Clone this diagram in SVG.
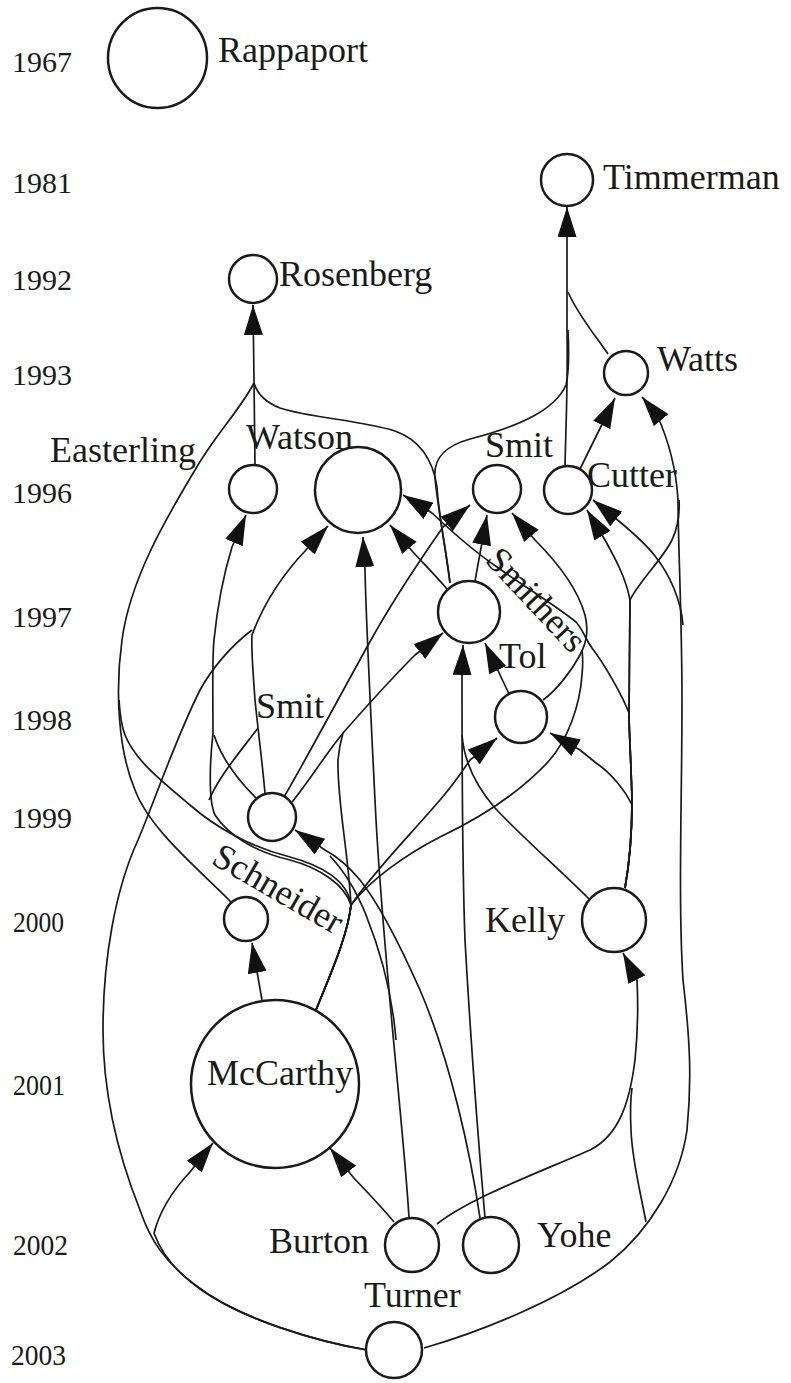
<svg xmlns="http://www.w3.org/2000/svg" width="791" height="1383" viewBox="0 0 791 1383">
<style>
.n{fill:#fff;stroke:#1a1a1a;stroke-width:2.5}
.e{fill:none;stroke:#1a1a1a;stroke-width:1.7}
.a{marker-end:url(#ah)}
.t{font-family:"Liberation Serif","Times New Roman",serif;font-size:36px;fill:#1a1a1a}
.y{font-family:"Liberation Serif","Times New Roman",serif;font-size:30px;fill:#1a1a1a}
</style>
<defs>
<marker id="ah" viewBox="0 0 30 19" refX="30" refY="9.5" markerWidth="30" markerHeight="19" markerUnits="userSpaceOnUse" orient="auto"><path d="M0,0 L30,9.5 L0,19 z" fill="#111"/></marker>
</defs>
<rect width="791" height="1383" fill="#fff"/>
<g id="years">
<text class="y" x="12" y="72">1967</text>
<text class="y" x="12" y="193">1981</text>
<text class="y" x="12" y="290">1992</text>
<text class="y" x="12" y="385">1993</text>
<text class="y" x="12" y="503">1996</text>
<text class="y" x="12" y="627">1997</text>
<text class="y" x="12" y="730">1998</text>
<text class="y" x="12" y="828">1999</text>
<text class="y" x="13" y="932" textLength="51" lengthAdjust="spacingAndGlyphs">2000</text>
<text class="y" x="13" y="1095" textLength="52" lengthAdjust="spacingAndGlyphs">2001</text>
<text class="y" x="13" y="1255" textLength="55" lengthAdjust="spacingAndGlyphs">2002</text>
<text class="y" x="11" y="1365" textLength="55" lengthAdjust="spacingAndGlyphs">2003</text>
</g>
<g id="edges">
<path class="e a" d="M565,466 C566,420 568,385 567,330 L567,207"/>
<path class="e" d="M608,354 C595,335 578,315 568,292"/>
<path class="e" d="M450,583 C446,550 438,510 435,478 C433,458 445,446 470,439 C520,426 555,410 566,385 C569,372 569,350 568,330"/>
<path class="e a" d="M255,465 L254,380 L253,305"/>
<path class="e" d="M232,903 C200,870 150,830 135,790 C118,750 115,690 122,640 C130,580 165,520 195,470 C215,435 240,410 254,383"/>
<path class="e" d="M316,1010 C330,975 348,935 351,905 C348,880 320,865 290,857 C250,847 215,827 190,805 C160,780 135,760 125,735 C121,725 120,715 119,700"/>
<path class="e" d="M450,583 C446,550 438,510 437,487 C433,460 420,440 395,431 C360,420 310,418 280,408 C265,402 257,393 254,383"/>
<path class="e a" d="M580,469 L615,398"/>
<path class="e a" d="M424,1348 C480,1332 560,1300 610,1262 C650,1230 680,1180 687,1130 C692,1080 690,1040 683,980 C678,900 682,800 682,700 C682,620 678,540 678,500 C676,465 667,437 657,415 L642,397"/>
<path class="e" d="M625,888 C630,860 632,830 632,800 C631,760 629,730 629,713 C629,680 630,640 630,600 C640,580 662,560 672,540 C678,527 680,515 679,500"/>
<path class="e a" d="M625,888 C630,860 632,830 632,800 C631,760 629,730 629,713 C629,680 630,640 630,600 C626,578 615,558 605,540 L587,510"/>
<path class="e a" d="M683,625 C681,600 670,575 655,556 C645,543 632,532 620,522 L593,500"/>
<path class="e a" d="M625,888 C630,860 632,830 632,800 C631,760 629,730 629,713 C622,695 605,665 592,648 C585,638 583,630 576,622 C555,605 522,585 497,567 C472,550 450,530 432,513 L403,495"/>
<path class="e a" d="M543,700 C557,690 572,670 580,655 C588,640 588,628 585,615 C578,590 560,565 535,540 L512,513"/>
<path class="e" d="M316,1010 C330,975 348,935 351,905 C370,880 405,855 440,837 C480,818 520,792 548,762 C568,740 580,705 582,675 C583,665 583,658 582,650"/>
<path class="e a" d="M625,888 C630,860 632,830 632,805 C625,790 610,772 596,763 C590,758 585,754 580,750 L550,733"/>
<path class="e" d="M589,899 C560,870 520,835 495,808 C475,785 464,760 462,735"/>
<path class="e a" d="M485,1218 C480,1160 470,1030 465,940 C462,860 462,760 462,677 L463,645"/>
<path class="e a" d="M509,694 L485,643"/>
<path class="e a" d="M316,1010 C330,975 348,935 351,905 C375,870 410,835 440,800 C452,786 462,772 470,760 L497,738"/>
<path class="e a" d="M292,802 C310,780 325,755 343,733 C365,708 390,680 415,655 L443,633"/>
<path class="e" d="M316,1010 C330,975 348,935 351,905 C348,850 337,800 338,760 C339,748 341,740 343,733"/>
<path class="e a" d="M284,797 C300,770 335,705 367,647 C390,605 420,560 443,527 L470,505"/>
<path class="e a" d="M265,793 C262,760 258,730 255,700 C253,670 251,650 252,635 C265,600 285,572 306,550 L328,526"/>
<path class="e" d="M367,1350 C320,1342 240,1320 195,1285 C165,1262 150,1240 140,1210 C120,1160 103,1100 103,1030 C103,960 115,890 138,840 C155,800 175,740 200,690 C212,668 232,645 252,630"/>
<path class="e a" d="M367,1350 C320,1342 240,1320 195,1285 C172,1268 160,1250 154,1233 C160,1210 175,1188 190,1172 L213,1143"/>
<path class="e a" d="M394,1222 C380,1205 365,1190 353,1177 L330,1148"/>
<path class="e a" d="M409,1218 C404,1130 382,950 375,800 C370,700 366,620 365,570 L363,537"/>
<path class="e a" d="M437,1224 C470,1198 540,1172 590,1150 C620,1135 630,1100 635,1060 C638,1030 638,1000 637,980 L623,953"/>
<path class="e" d="M646,1222 C640,1190 632,1160 631,1130 C630,1110 631,1095 632,1088"/>
<path class="e a" d="M262,1000 L252,943"/>
<path class="e a" d="M480,1218 C470,1150 450,1060 420,990 C400,945 380,905 360,880 C350,868 340,858 325,850 L295,830"/>
<path class="e" d="M396,1040 C392,990 380,950 366,915 C356,890 345,872 330,856"/>
<path class="e a" d="M316,1010 C330,975 348,935 351,905 C345,885 320,868 290,860 C255,852 228,835 215,815 C208,800 210,760 213,733 C213,700 212,660 214,640 C218,600 225,570 232,547 L246,515"/>
<path class="e" d="M256,798 C240,782 222,760 214,735"/>
<path class="e" d="M209,800 C220,775 240,752 258,728"/>
<path class="e a" d="M447,589 C435,575 422,562 413,552 L390,525"/>
<path class="e a" d="M475,581 L487,515"/>
</g>
<g id="rappaport"><ellipse class="n" cx="157.5" cy="58" rx="49.5" ry="50"/><text class="t" x="218" y="62">Rappaport</text></g>
<g id="timmerman"><circle class="n" cx="567" cy="180" r="26"/><text class="t" x="603" y="189">Timmerman</text></g>
<g id="rosenberg"><circle class="n" cx="253" cy="279" r="24"/><text class="t" x="279" y="286">Rosenberg</text></g>
<g id="watts"><circle class="n" cx="626" cy="373" r="22"/><text class="t" x="657" y="371">Watts</text></g>
<g id="easterling"><circle class="n" cx="253" cy="489" r="24"/><text class="t" x="50" y="462">Easterling</text></g>
<g id="watson"><circle class="n" cx="358" cy="490" r="43"/><text class="t" x="246" y="449">Watson</text></g>
<g id="smit1996"><circle class="n" cx="497" cy="489" r="24"/><text class="t" x="485" y="457">Smit</text></g>
<g id="cutter"><circle class="n" cx="568" cy="490" r="24"/><text class="t" x="587" y="487">Cutter</text></g>
<g id="smithers"><circle class="n" cx="469" cy="612" r="31"/><text class="t" transform="translate(484,561) rotate(47)">Smithers</text></g>
<g id="tol"><circle class="n" cx="521" cy="717" r="26"/><text class="t" x="499" y="668">Tol</text></g>
<g id="smit1999"><circle class="n" cx="272" cy="817" r="24"/><text class="t" x="256" y="718">Smit</text></g>
<g id="schneider"><circle class="n" cx="246" cy="919" r="22"/><text class="t" transform="translate(210,863) rotate(30)">Schneider</text></g>
<g id="kelly"><circle class="n" cx="614" cy="920" r="32"/><text class="t" x="485" y="932">Kelly</text></g>
<g id="mccarthy"><circle class="n" cx="275" cy="1084" r="84"/><text class="t" x="280" y="1085" text-anchor="middle">McCarthy</text></g>
<g id="burton"><circle class="n" cx="412" cy="1245" r="27"/><text class="t" x="269" y="1253">Burton</text></g>
<g id="yohe"><circle class="n" cx="491" cy="1245" r="28"/><text class="t" x="537" y="1247">Yohe</text></g>
<g id="turner"><circle class="n" cx="394" cy="1350" r="28"/><text class="t" x="364" y="1307">Turner</text></g>
</svg>
